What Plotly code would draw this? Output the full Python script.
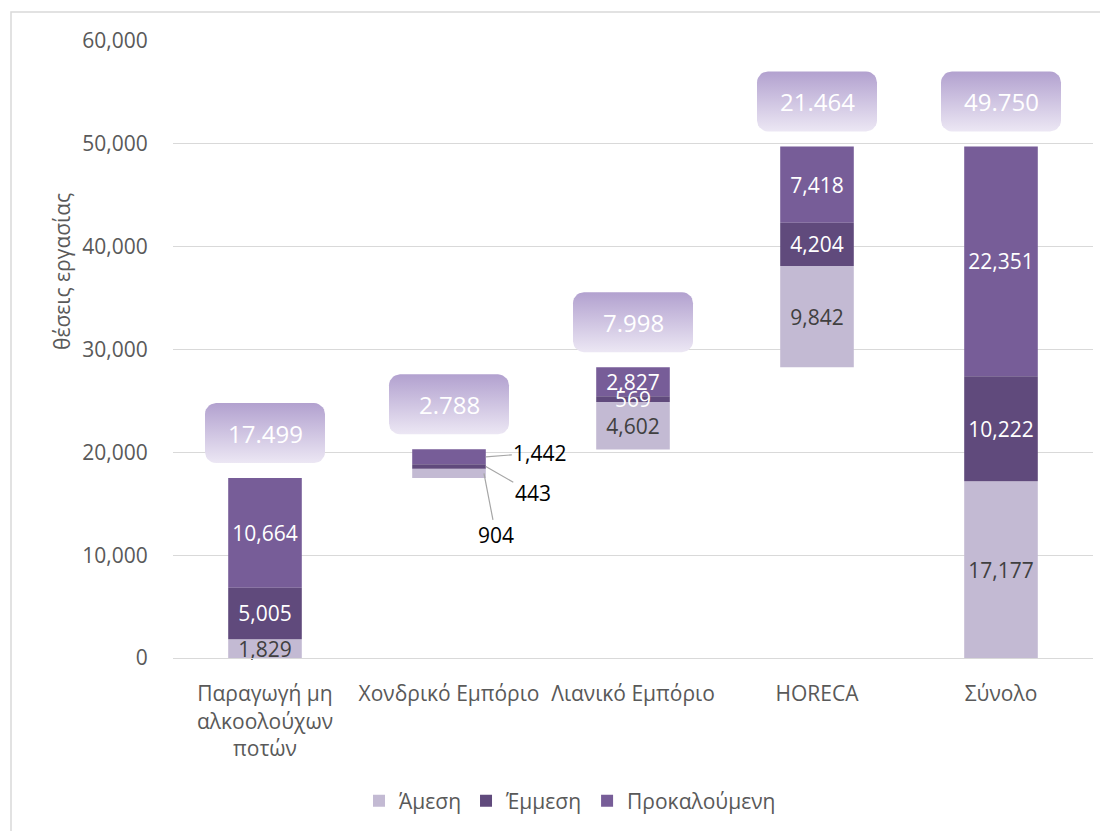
import plotly.graph_objects as go
import numpy as np

# ---------------- data ----------------
categories = ["Παραγωγή μη<br>αλκοολούχων<br>ποτών", "Χονδρικό Εμπόριο",
              "Λιανικό Εμπόριο", "HORECA", "Σύνολο"]
series_names = ["Άμεση", "Έμμεση", "Προκαλούμενη"]
amesi = [1829, 904, 4602, 9842, 17177]
emmesi = [5005, 443, 569, 4204, 10222]
prokal = [10664, 1442, 2827, 7418, 22351]
totals = [17499, 2788, 7998, 21464, 49750]
y_ticks = [0, 10000, 20000, 30000, 40000, 50000, 60000]

# ---------------- styling ----------------
OFF = 8                      # page body margin of the html page
W, H = 1108 - OFF, 831 - OFF
ML, MT = 173 - OFF, 41 - OFF
PW, PH = 920, 617
MR, MB = W - ML - PW, H - MT - PH
YMAX = 60000
FONT = "Open Sans"
C_AM, C_EM, C_PR = "#c3bad3", "#604a7c", "#775d98"
GRID = "#d9d9d9"
TXT = "#595959"
FS = 21

n = len(categories)
xpos = list(range(n))
# waterfall start of each bar: running sum of sector totals, total bar from 0
starts = [sum(totals[:i]) for i in range(n - 1)] + [0]
base_am = starts
base_em = [s + a for s, a in zip(starts, amesi)]
base_pr = [b + e for b, e in zip(base_em, emmesi)]
tops = [b + p for b, p in zip(base_pr, prokal)]

small_idx = 1  # Χονδρικό Εμπόριο: labels placed outside with leader lines


def lbls(vals):
    return [("" if i == small_idx else f"{v:,}") for i, v in enumerate(vals)]


fig = go.Figure()
BW = 0.40
# drawing order: Άμεση, Προκαλούμενη, Έμμεση (so thin Έμμεση labels stay on top)
for name, vals, base, col, tcol, rank in [
    (series_names[0], amesi, base_am, C_AM, "#404040", 1),
    (series_names[2], prokal, base_pr, C_PR, "white", 3),
    (series_names[1], emmesi, base_em, C_EM, "white", 2),
]:
    fig.add_trace(go.Bar(
        x=xpos, y=vals, base=base, name=name, width=BW, legendrank=rank,
        marker=dict(color=col, line=dict(width=0)),
        text=lbls(vals), textposition="inside", insidetextanchor="middle",
        constraintext="none", cliponaxis=False,
        textfont=dict(family=FONT, size=FS, color=tcol),
        hoverinfo="skip",
    ))

# ---------------- total callout boxes (rounded, gradient) ----------------
px_x = PW / n          # pixels per x unit
px_y = PH / YMAX       # pixels per y unit
box_w, box_h, gap, rad = 120, 60, 15, 11


def rounded_rect(cx, y0):
    hw = box_w / 2 / px_x
    hh = box_h / px_y
    rx = rad / px_x
    ry = rad / px_y
    x_l, x_r, y_b, y_t = cx - hw, cx + hw, y0, y0 + hh
    pts = []
    corners = [(x_r - rx, y_t - ry, 0, 90), (x_l + rx, y_t - ry, 90, 180),
               (x_l + rx, y_b + ry, 180, 270), (x_r - rx, y_b + ry, 270, 360)]
    for cxx, cyy, a0, a1 in corners:
        for a in np.linspace(np.radians(a0), np.radians(a1), 8):
            pts.append((cxx + rx * np.cos(a), cyy + ry * np.sin(a)))
    pts.append(pts[0])
    return [p[0] for p in pts], [p[1] for p in pts], y_b + hh / 2


annotations = []
for i in range(n):
    y0 = tops[i] + gap / px_y
    xs, ys, yc = rounded_rect(xpos[i], y0)
    fig.add_trace(go.Scatter(
        x=xs, y=ys, mode="lines", fill="toself", line=dict(width=0),
        fillgradient=dict(type="vertical",
                          colorscale=[[0, "#ece7f4"], [1, "#b2a1cf"]]),
        showlegend=False, hoverinfo="skip",
    ))
    annotations.append(dict(
        x=xpos[i], y=yc, xref="x", yref="y", showarrow=False,
        text=f"{totals[i]:,}".replace(",", "."),
        font=dict(family=FONT, size=24, color="white"),
    ))

# ---------------- outside labels for the small bar ----------------
i = small_idx
right = xpos[i] + BW / 2
lead = [
    (prokal[i], base_pr[i] + prokal[i] / 2, right, 54, -4),
    (emmesi[i], base_em[i] + emmesi[i] / 2, right, 47, 27),
    (amesi[i], base_am[i] + amesi[i] / 2, right - 0.01, 12, 62),
]
for v, yv, xv, ax, ay in lead:
    annotations.append(dict(
        x=xv, y=yv, xref="x", yref="y", text=f"{v:,}",
        showarrow=True, arrowhead=0, arrowwidth=1.2, arrowcolor="#a6a6a6",
        ax=ax, ay=ay, standoff=0,
        font=dict(family=FONT, size=FS, color="black"),
    ))

# y-axis title
annotations.append(dict(
    x=(62 - 173) / PW, y=(658 - 272) / PH, xref="paper", yref="paper",
    xanchor="center", yanchor="middle",
    text="θέσεις εργασίας", textangle=-90, showarrow=False,
    font=dict(family=FONT, size=FS, color=TXT),
))

# chart border (top + left visible; rest runs past the picture)
shapes = [dict(
    type="rect", xref="paper", yref="paper",
    x0=(11 - 173) / PW, x1=1.2, y0=-0.5, y1=(658 - 12) / PH,
    line=dict(color=GRID, width=1.5), fillcolor="rgba(0,0,0,0)", layer="below",
)]

fig.update_layout(
    width=W, height=H,
    margin=dict(l=ML, r=MR, t=MT, b=MB),
    paper_bgcolor="white", plot_bgcolor="white",
    barmode="overlay",
    font=dict(family=FONT, size=FS, color=TXT),
    xaxis=dict(
        range=[-0.5, n - 0.5], tickvals=xpos, ticktext=categories,
        showgrid=False, zeroline=False, showline=True, linecolor=GRID,
        linewidth=1, ticks="outside", ticklen=17, tickcolor="rgba(0,0,0,0)",
        tickfont=dict(family=FONT, size=FS, color=TXT), fixedrange=True,
    ),
    yaxis=dict(
        range=[0, YMAX], tickvals=y_ticks, tickformat=",",
        showgrid=True, gridcolor=GRID, gridwidth=1, zeroline=False,
        showline=False, ticks="outside", ticklen=20,
        tickcolor="rgba(0,0,0,0)",
        tickfont=dict(family=FONT, size=FS, color=TXT), fixedrange=True,
    ),
    legend=dict(
        orientation="h", xref="container", yref="container",
        x=(570 - OFF) / W, xanchor="center", y=1 - (801 - OFF) / H,
        yanchor="middle",
        font=dict(family=FONT, size=FS, color=TXT), traceorder="normal",
        itemwidth=30,
    ),
    annotations=annotations, shapes=shapes,
    showlegend=True,
)

fig.write_html("out.html")
